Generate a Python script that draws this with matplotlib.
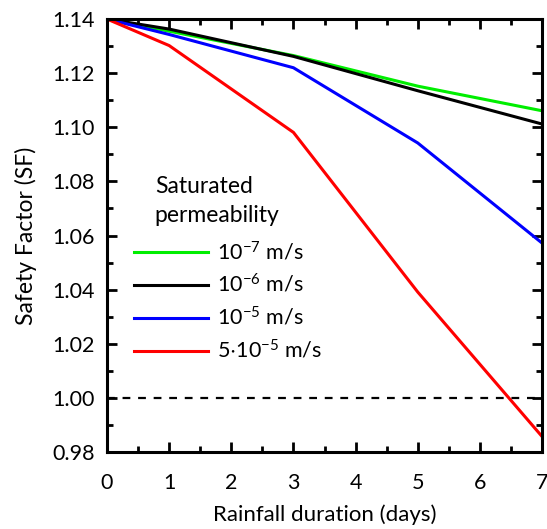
import numpy as np
import matplotlib.pyplot as plt
from matplotlib.ticker import MultipleLocator

plt.rcParams['font.family'] = ['Lato', 'DejaVu Sans']
plt.rcParams['mathtext.fontset'] = 'custom'
plt.rcParams['mathtext.rm'] = 'Lato'

days = [0, 1, 3, 5, 7]
sf_1e7 = [1.140, 1.1355, 1.1265, 1.1152, 1.1061]
sf_1e6 = [1.140, 1.1363, 1.1262, 1.1135, 1.1012]
sf_1e5 = [1.140, 1.1343, 1.1220, 1.0942, 1.0572]
sf_5e5 = [1.140, 1.1302, 1.0981, 1.0391, 0.9857]

labels = ["$\\mathregular{10^{-7}}$ m/s", "$\\mathregular{10^{-6}}$ m/s",
          "$\\mathregular{10^{-5}}$ m/s", "$\\mathregular{5{\\cdot}10^{-5}}$ m/s"]
colors = ["#00ee00", "black", "#0000ff", "#ff0000"]

fig = plt.figure(figsize=(5.47, 5.29), dpi=100)
ax = fig.add_axes([0.1956, 0.1456, 0.7954, 0.8184])

for y, lab, c in zip([sf_1e7, sf_1e6, sf_1e5, sf_5e5], labels, colors):
    ax.plot(days, y, color=c, lw=2.2, label=lab, solid_joinstyle="miter")

ax.axhline(1.0, color="black", lw=1.6, ls=(0, (3.5, 3.5)))

ax.set_xlim(0, 7)
ax.set_ylim(0.98, 1.14)
ax.xaxis.set_major_locator(MultipleLocator(1))
ax.xaxis.set_minor_locator(MultipleLocator(0.5))
ax.yaxis.set_major_locator(MultipleLocator(0.02))
ax.yaxis.set_minor_locator(MultipleLocator(0.01))
ax.yaxis.set_major_formatter(plt.FormatStrFormatter("%.2f"))
ax.tick_params(which="both", direction="in", top=True, right=True, width=2, labelsize=15.5)
ax.tick_params(which="major", length=7, pad=9)
ax.tick_params(which="minor", length=4)
ax.tick_params(axis="x", pad=15)
for s in ax.spines.values():
    s.set_linewidth(2.2)

ax.set_xlabel("Rainfall duration (days)", fontsize=16, labelpad=8)
ax.set_ylabel("Safety Factor (SF)", fontsize=16.5, labelpad=11)

ax.text(0.11, 0.58, "Saturated\npermeability", transform=ax.transAxes,
        fontsize=16.5, ha="left", va="center", linespacing=1.5)
ax.legend(loc="center left", bbox_to_anchor=(0.062, 0.348), frameon=False,
          fontsize=15.5, handlelength=3.44, handletextpad=0.42, labelspacing=0.45,
          borderaxespad=0, borderpad=0)

fig.savefig("out.png", dpi=100)
